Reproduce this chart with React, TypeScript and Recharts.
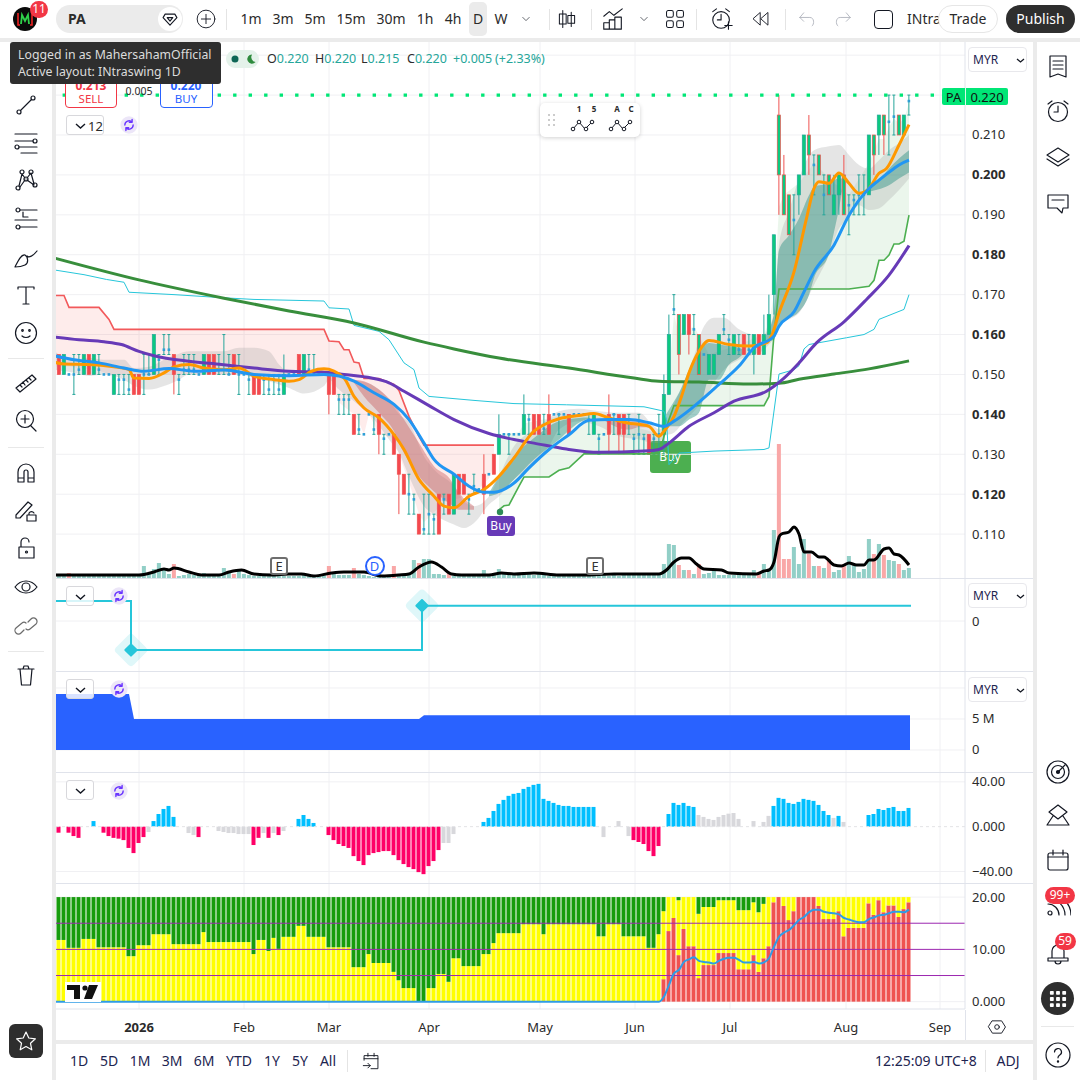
import React from 'react';
import { ComposedChart, Bar, Line, Area, XAxis, YAxis, CartesianGrid, ReferenceLine } from 'recharts';

// bars are indexed 0..170, prices are thousandths of MYR
const candleOpen = [
  155,150,150,150,151.2,150,155,150,151.2,150, 150,145,148.7,148.7,146.2,150,150,150,150,150,
  153.7,156.2,156.2,155,148.7,151.2,151.2,151.2,150,150, 155,155,151.2,151.2,150,155,150,150,148.7,150,
  150,148.7,146.2,148.7,146.2,145,150,150,155,150, 151.2,150,150,150,150,150,143.7,143.7,143.7,140,
  136.2,135,140,136.2,140,133.9,135,135,130,125, 120,118.7,115,111.2,115,113.7,120,118.7,120,115,
  125,125,118.7,122,121.2,125,125,130,130,135, 135,135,135,135,138.7,140,140,136.4,140,140,
  140,140,140,140,140,140,138.7,135,133.9,135, 140,140,140,140,138.7,133.9,135,133.9,135,133.9,
  135,135,145,166.3,165,160,165,161.3,160,155, 150,150,155,161.3,158.7,155,156.2,160,156.2,155,
  160,155,160,170,215,200,195,188.7,195,200, 210,202.5,205,195,200,190,195,200,192.4,193.7,
  195,195,195,210,210,215,213.3,214.6,215,210,218.5,
];
const candleHigh = [
  155,155,150,155,155,155,155,155,155,150, 150,150,150,150,150,150,150,155,155,160,
  155,160,160,155,150,155,155,155,150,155, 155,155,155,160,155,155,155,150,150,150,
  150,150,150,150,150,155,150,150,155,155, 155,155,150,150,150,150,145,145,145,140,
  140,135,140,140,140,135,135,135,130,125, 125,120,115,120,120,115,120,120,120,125,
  125,125,120,125,121.2,130,125,130,140,135, 135,135,135,145,140,140,140,140,145,140,
  140,140,140,140,140,140,140,140,135,135, 145,140,140,140,140,135,140,135,135,135,
  140,150,165,170,165,165,165,165,160,155, 155,155,160,165,160,160,160,160,160,160,
  160,165,170,185,220,205,195,195,200,210, 215,205,205,200,200,200,200,205,195,195,
  200,200,210,210,215,215,220,220,215,215,220,
];
const candleLow = [
  150,150,150,145,150,150,150,150,150,150, 150,145,145,145,145,145,145,145,150,150,
  150,155,155,145,145,150,150,150,150,150, 150,150,150,150,150,150,145,150,145,145,
  145,145,145,145,145,145,150,150,150,150, 150,150,150,150,140,145,140,140,140,135,
  135,135,140,135,130,130,135,130,115,120, 115,115,110,110,110,110,110,115,115,115,
  120,120,115,120,121.2,115,125,125,130,135, 130,135,135,135,135,135,135,135,135,140,
  135,140,135,140,140,140,135,135,130,135, 130,135,130,130,135,130,130,130,130,130,
  130,130,145,165,150,160,155,160,150,155, 150,150,155,160,155,155,155,155,155,150,
  155,155,160,165,190,190,185,180,190,200, 200,195,200,190,195,190,190,190,185,190,
  190,190,195,200,205,205,205,210,210,210,215,
];
const candleClose = [
  150,155,150,150,151.2,155,150,155,151.2,150, 150,150,148.7,148.7,146.2,145,145,150,150,160,
  153.7,156.2,156.2,150,148.7,151.2,151.2,151.2,150,155, 150,150,151.2,151.2,150,150,150,150,148.7,145,
  145,148.7,146.2,148.7,146.2,150,150,150,150,155, 151.2,150,150,150,145,145,143.7,143.7,143.7,135,
  136.2,135,140,136.2,135,133.9,135,130,125,120, 120,118.7,110,111.2,115,113.7,110,118.7,115,125,
  120,120,118.7,122,121.2,120,125,125,135,135, 135,135,135,140,138.7,135,135,136.4,135,140,
  140,140,135,140,140,140,138.7,140,133.9,135, 135,140,135,135,138.7,133.9,135,133.9,130,133.9,
  135,145,160,166.3,155,165,160,161.3,150,155, 155,155,160,161.3,158.7,160,156.2,155,156.2,160,
  155,160,165,185,200,190,185,188.7,200,210, 205,202.5,200,195,195,195,200,190,192.4,193.7,
  195,195,210,205,215,210,213.3,214.6,210,215,218.5,
];
// down bars drawn with a green body inside a red edge
const outlinedBars = [124,128,144,145,146,150,152,154,157,163,165,168];

const volumes = [
  3,3,5,3,2,3,2,3,3,3, 3,3,3,3,3,3,3,12,4,9, 15,10,4,14,2,3,4,3,3,5, 3,3,3,10,6,4,7,4,3,2,
  2,2,2,2,2,2,2,2,2,3, 2,2,2,3,12,4,3,3,3,10, 4,3,2,1,3,3,3,12,4,4, 5,18,15,19,19,4,4,3,5,2,
  2,2,2,2,3,8,4,3,9,5, 4,4,5,6,5,3,4,3,2,3, 2,3,3,2,2,3,2,4,2,3, 2,3,2,3,3,3,4,4,3,4,
  3,14,34,33,13,8,8,4,14,4, 5,7,3,3,3,3,3,3,4,8, 4,14,8,48,134,19,19,31,14,39,
  24,12,12,10,19,6,8,14,22,14, 6,9,39,24,34,23,18,17,14,8,10,
];
const volumeDownBars = [2,23,35,54,59,67,72,78,124,126,128,140,144,145,146,150,152,154,157,163,165,168];
const volumeAverage = [
  [-1,3],[16,3],[19,6],[21,9],[22,8],[23,10],[26,6],[28.5,3],[32,3],[34,6],[36.5,8],[39,4],[42.5,3],[46,4],[48.5,4],
  [51,2],[54.5,5],[57,6],[61,6],[64.5,2],[68,3],[70,4],[72,11],[74.5,16],[76.5,11],[78.5,4],[80.5,3],[86,3],[88.5,5],
  [91,4],[95,5],[100,3],[105,3],[111,4],[120,4],[121.5,8],[123,16],[124.5,20],[126,20],[127.5,14],[129,9],[132.5,8],
  [134,5],[139.5,4],[141,7],[142,8],[143,16],[144,41],[144.5,44],[146,46],[147,51],[148,44],[149,26],[150.5,26],
  [152,21],[153,21],[155,13],[156.5,12],[158,15],[159.5,13],[161,13],[162,18],[163,18],[165,29],[166,30],[167,24],
  [168,23],[170,13],
];

const sma200 = [[-1,179.2],[16,173.7],[33,169.1],[46,165.9],[59,162.9],[73,158.1],[79,156.4],[88,154.1],[102,151.6],[115,149.1],[120,148.3],[128,148.1],[138,147.6],[144,147.8],[148,148.8],[155,150.1],[162,151.4],[170,153.4]];
const sma50 = [[-1,159.4],[4,158.7],[9,158.2],[12.5,157.5],[16,155.8],[19,154.7],[26,153.3],[32.5,152.5],[39,151.6],[46,150.8],[52.5,150.6],[57,150],[62.5,149.1],[66,147.9],[69,145.8],[74,142.2],[79,138.7],[86,135.2],[91,133.7],[95,132.8],[101.5,131.3],[108,130.5],[117,130.8],[120,131.2],[122,132.8],[126,137],[131,140.4],[135,143.3],[141.5,145.8],[145,149.1],[148,152.9],[151.5,157.9],[157,163.2],[161.5,168.8],[166,174.9],[170,182.3]];
const ema20 = [[-1,154.7],[3,153.7],[8,152.9],[13,151.6],[17,150.8],[22,151.5],[27,150.8],[33,151.1],[39,150],[46,149.7],[53,150],[56,149.6],[59,148.3],[63,145.4],[67,142.5],[70,138.7],[73,132.8],[75,128.7],[79,125],[82,122],[85,120.5],[87,120.5],[91,122.8],[94,126.6],[98,131.2],[102,134.9],[106,138.5],[110,138.7],[114,138.7],[118,137.9],[121,137],[123,138.3],[127,142],[132,147.5],[136,152.1],[139,156.7],[143,159.6],[144,162.1],[147,165.7],[149,170.7],[151,175.7],[155,182.4],[158,189.9],[162,196.6],[164,198.7],[167,201.6],[168,202.5],[170,203.7]];
const ema10 = [[-1,153.1],[1,152.6],[6,152.5],[11,151.9],[14,151.2],[15,149.1],[18,149],[21,150.4],[23,151.9],[26,152.5],[29,151.6],[33,151.2],[36,151.6],[39,149.6],[43,148.7],[46,148.3],[48,148.7],[50.5,150.8],[53,151.4],[57,149.1],[59,144.5],[61,141.6],[64,139.1],[67,134.9],[69,131.2],[72,123.7],[75,119.5],[77,117],[79,116.6],[82,119.5],[85,121.2],[88,124.5],[91,129.1],[95,135.8],[97,137.4],[100,138.9],[104,139.7],[107,140.2],[110,139.1],[113.5,137.9],[118,137],[120,134.5],[121,135.8],[123,139.5],[124.5,144.5],[126,150.4],[128,155.8],[130,158.5],[134,157.5],[138,157.1],[141.5,157.9],[142.5,159.6],[144,165.4],[147,175.7],[149.5,189.1],[151,196.6],[152,198.3],[154,197.9],[156,200.5],[158,197.9],[160,195.4],[162,196.6],[164,200.4],[165.5,201.6],[168,207.5],[170,212.6]];
const channelLine = [[-1,176.2],[5,175],[9.5,173.8],[13,173.1],[14,170.6],[23,170],[33,169.2],[39,168.8],[53,168.4],[54,166.7],[58,166.4],[59,162.3],[64,160.8],[66,158.7],[69,152.9],[71,151.2],[72,146.6],[74,144.5],[83,143.5],[91,142.7],[101.5,142.4],[117,141.9],[121,140.8],[121.5,138.7],[122,127.4],[124,130.3],[131,130.8],[141,131.2],[142,131.6],[144,150.1],[147,151.2],[148,152.2],[149,156.4],[150,157.5],[157.5,159.2],[161,160],[163,161.3],[164,163.8],[169,166.3],[170,170]];

// [bar, lower, upper]
const bearTrendBand = [[-1,152,169.8],[1,152,169.8],[2,152,166.8],[8,151,166.8],[10,150,163.8],[11,150,161.3],[53,150,161.3],[54,149,158.4],[56,143,158.2],[57,142,156.2],[58,141,156.2],[59,140,153.1],[60,138,152.9],[61,135,149],[62,140,149],[64,135,149],[67,134,147.5],[68,130,146],[70,123,139.5],[72,115,134.5],[73,113,132.3],[77,118,132.3],[80,119,132.3],[83,120,132.3],[86,124,132.3],[87,127,132.3]];
const bullTrendBand = [[88,116.1,134.9],[89,117.1,135.2],[90,117.3,135.2],[92,122,135.5],[93,124.3,137.7],[98,124.3,139],[100,126,139.5],[102,126.6,140],[105,130.1,140],[110,130.1,139],[115,130.1,137],[120,130.1,135],[121,134.5,141],[122,138.7,150],[123,142.2,165],[124,142.2,160],[127,142.2,162],[130,142.2,155],[135,142.2,157],[141,142.2,160],[142,144.5,163],[143,160,170],[144,171.4,192],[145,171.4,195],[148,171.4,198],[151,171.4,203],[155,171.4,198],[158,171.4,195],[162,172.1,203],[163,173.6,206],[164,178.6,209],[165,178.6,209],[166,179.9,212],[167,182.7,214],[168,182.7,213],[169,183.4,214],[170,189.9,218]];
const greyBand = [[-1,151.2,155.8],[3,150.4,153.7],[6,149.6,154.2],[9,150,153.7],[13,148.7,153.7],[15,147.2,151.6],[18,146.2,151.9],[21,147.1,153.7],[24,148.7,155.2],[26,150,155.8],[33,150,155.8],[36,150,156.7],[39,149.1,156.7],[42,148.3,155.8],[44,147.5,152.5],[46,146.6,150.4],[49,145.2,149.6],[53,147.1,150],[54,148.7,150],[56,146.2,149.6],[59,143.3,148.7],[63,138.7,147.1],[66,133.7,143.7],[68,130.3,140],[70,124.5,137.9],[73,117,129.5],[75,115,126.2],[79,112.4,122],[81,111.5,118.2],[83,112.8,117],[86,117.4,119.5],[88,119.5,124.5],[91,123.7,132],[93,125.7,134.5],[95,127.8,136.2],[98,132,139.1],[100,136.2,140.8],[104,138.3,141.4],[108,137,140.8],[112,134.5,140.4],[116,133.7,140.4],[119,132.8,137],[120,132.8,136.2],[121,134.5,137],[123,135.4,142.5],[125,138.3,147.9],[127,140.8,154.6],[129,143.7,162.1],[131,147.9,164.2],[133,151.2,164.2],[136,153.7,161.3],[139,155,160],[141,156.2,160],[142,157.5,162.1],[143,159.2,165.4],[144,162.9,182.4],[146,163.8,190.8],[148,165.4,199.1],[151,172.4,206.2],[154,179.9,207.2],[156,186.6,207.5],[158,189.1,205],[160,192.4,202.5],[162,191.2,201.6],[164,191.6,203.7],[166,193.7,206.2],[168,196.2,207.9],[170,199.1,210]];
const tealBands = [
  [[86,119.5,120.3],[88,120.3,124.5],[91,123.7,129.5],[95,128.7,134.1],[100,133.7,138.3],[104,137.9,139.1],[106,139,139.2]],
  [[121,138,139],[122,137,141.2],[124,137,145.4],[126,138.7,151.2],[128,140.4,156.2],[130,148.7,157.9],[132,148.7,157.5],[134,152.5,157.1],[136,154.2,156.7],[137,155.4,156.2]],
  [[141,157.5,159],[142,158.3,161.3],[143,158.7,165.4],[144,162.4,181.2],[146,164,184.9],[148,165.7,189.1],[150,169.9,194.9],[151,174.1,197],[154,180.3,197.9],[155,185.7,198.7],[156,191.6,199.1],[157,198.7,199.1]],
  [[162,195.8,197.4],[164,196.4,198.7],[166,197.4,201.6],[168,199.1,204.1],[170,200.6,206.2]],
];
const roseBands = [
  [[59,147.9,148.7],[61,144.5,148.3],[64,140.4,146.2],[67,135.8,142.5],[69,130.3,138.7],[72,124.5,132.8],[75,120.7,127],[78,117.8,124.1],[80,116.1,120.3],[83,116.1,117]],
  [[109,138.5,138.9],[112,136.6,138.7],[114,136.2,138.3],[116,136.8,138.3],[118,136.8,137.4]],
];

const pivotLine = [[-1,20],[14.4,-29],[72.6,15.3],[170.4,15.3]];
const pivotMarks = [14.4, 72.6];
const liquidity = [[-1,9.03],[14,9.03],[15,5],[72,5],[73,5.6],[170.2,5.6]];

const momentum = [
  -5.4,0,-5.4,-8.4,-10,0,0,5,0,-5.4, -8.4,-10,-10.7,-12,-19,-23.6,-14.6,-9.3,-4.8,5,
  11.3,15.8,18.5,8.7,0,0,-5.7,-7.5,-9.3,0, 0,0,-3.9,-4.8,-5.7,-5.7,-6.6,-6.6,-6.6,-16.4,
  -10,-5.7,-10,-5.7,-7.5,-3.9,0,0,6.9,10.4, 6.9,3.3,0,0,-7.5,-12,-15.5,-17.3,-19,-26.3,
  -30.7,-34.3,-25.4,-23.6,-22.7,-21.8,-21.8,-25.4,-29.9,-33.4, -36.1,-37.9,-40.6,-42.4,-35.2,-30.7,-20.9,-14.6,-14.6,-6.6,
  0,0,0,0,0,4.2,7.8,14,20.3,23.9, 27.5,29.3,30.1,33.7,35.5,37.3,38.2,24.8,23,21.2,
  19.4,18.5,18.5,17.6,17.6,17.6,17.6,17.6,0,-9.3, 0,0,5,0,-8.4,-12,-13.7,-15.5,-21.8,-26.3,
  -17.3,0,11.3,21.2,19.4,21.2,18.5,17.6,10.4,8.7, 6.9,6,8.7,10.4,11.6,12.2,6.9,0,0,5,
  0,4.2,9.6,18.5,25.7,24.8,21.2,20.3,22.1,24.8, 23.9,23,19.4,14,10.4,7.8,9.6,4.2,0,0,
  0,0,10.4,11.3,15.8,14.9,16.7,17.6,14,14,16.7,
];
const momentumNeutral = [18,26,27,32,33,34,35,36,37,38,41,43,45,77,78,79,109,112,114,128,129,130,131,132,133,134,135,136,139,141,142,155,157];

const oscTop = [
  11.8,11.8,10.3,10.3,10.3,12,12,12,10.4,10.4, 10.4,10.4,10.4,10.4,8.7,8.7,10.8,10.8,10.8,12.9,
  12.9,12.9,12.9,11,11,11,11,11,11,13.3, 11.4,11.4,11.4,11.4,11.4,11.4,11.4,11.4,11.4,9.1,
  11.8,11.8,9.7,12.2,10.1,12.4,12.4,12.4,14.5,14.5, 12.4,12.4,12.4,12.4,10.4,10.4,10.4,10.4,10.4,6.6,
  6.6,6.6,9.1,7.4,7.4,7.4,7.4,5.7,4.1,2.6, 2.6,2.6,0,0,2.6,2.6,5.3,5.3,3.8,8.3,
  8.3,6.8,6.8,6.8,6.8,9.1,9.1,11.2,13.1,13.1, 13.1,13.1,13.1,14.8,14.8,14.8,14.8,12.9,14.8,14.8,
  14.8,14.8,14.8,14.8,14.8,14.8,14.8,14.8,12.5,12.5, 14.8,14.8,14.8,12.5,12.5,12.5,12.5,12.5,10.3,10.3,
  12.9,17.3,20,20,19.4,20,20,20,16.8,18.1, 18.1,18.1,19.4,19.4,19.4,19.4,17.5,17.5,17.5,19,
  17.1,18.7,20,20,20,20,20,20,20,20, 20,20,20,20,20,20,20,20,20,20, 20,20,20,20,20,20,20,20,20,20,20,
];
const oscRedFrom = 121;
const oscRed = [
  4.3,13.5,16,8.9,13.9,10.6,10.6,4.5,7, 7,7,9.3,9.3,9.3,9.3,6.2,6.2,6.2,8.9,
  5.7,8.3,10.6,19,20,18.3,15.6,17.3,20,20, 20,20,18.3,15.8,15.8,15.8,17.3,12.5,14.1,14.1,
  14.1,14.1,18.8,16.6,19.4,17.1,18.4,18.4,16.2,17.7,19,
];
const oscSignal = [[-1,0],[120,0],[121,1],[122,3.2],[123,5.4],[124,6.1],[125,7.6],[126,8.1],[127,8.5],[128,7.8],[129,7.6],[130,7.5],[131,7.3],[132,7.8],[133,8.2],[134,8.4],[135,8.4],[136,8],[137,7.5],[138,7.5],[139,7.6],[140,7.3],[141,7.5],[142,8.3],[143,10.5],[144,12.4],[145,13.2],[146,13.7],[147,14.6],[148,15.6],[149,16.2],[150,17.1],[151,17.6],[152,17.6],[153,17.2],[154,17],[155,16.9],[156,16.7],[157,16],[158,15.7],[159,15.4],[160,15.2],[161,15.2],[162,15.8],[163,16.1],[164,16.5],[165,16.6],[166,16.9],[167,17.2],[168,17.2],[169,17.1],[170,17.6]];

const monthTicks = [16, 37, 54, 74, 96.2, 115.2, 134.2, 157.4, 176.2];
const monthLabels = ['2026', 'Feb', 'Mar', 'Apr', 'May', 'Jun', 'Jul', 'Aug', 'Sep'];
const priceTicks = [110, 120, 130, 140, 150, 160, 170, 180, 190, 200, 210, 220, 230];
const boldPrices = [120, 140, 160, 180, 200];

const intervals = [['1m',251],['3m',283],['5m',315],['15m',351],['30m',391],['1h',425],['4h',453],['D',478],['W',501]];
const ranges = [['1D',79],['5D',109],['1M',140],['3M',172],['6M',204],['YTD',239],['1Y',272],['5Y',300],['All',328]];
const ohlcLegend = [['O','0.220',267],['H','0.220',315],['L','0.215',361],['C','0.220',407]];

const UI_FONT = '"Noto Sans", sans-serif';
const PLOT_W = 909;
const AXIS_W = 68;
const X_DOMAIN: [number, number] = [-0.6, 181.2];
const GRID = '#f0f0f3';
const BORDER = '#e0e3eb';

const toLine = (rows: number[][]) => rows.map(([i, v]) => ({ i, v }));
const toBand = (rows: number[][]) => rows.map(([i, lo, hi]) => ({ i, band: [lo, hi], top: hi, bottom: lo }));

const candles = candleOpen.map((open, i) => ({ i, open, high: candleHigh[i], low: candleLow[i], close: candleClose[i] }));
const volumeRows = volumes.map((vol, i) => ({ i, vol }));
const momentumRows = momentum.map((m, i) => ({ i, m }));
const oscRows = oscTop.map((top, i) => {
  const red = i >= oscRedFrom ? oscRed[i - oscRedFrom] : 0;
  return { i, red, yellow: Math.max(top - red, 0), green: 20 - top };
});

function CandleShape(props: any) {
  const { x, y, width, height, payload } = props;
  const { open, high, low, close, i } = payload;
  const cx = x + width / 2;
  const span = high - low;
  const toY = (v: number) => (span === 0 ? y : y + ((high - v) / span) * height);
  const isFlat = open === close;
  const isDown = close < open;
  const wick = isDown ? '#ef5350' : '#26a69a';
  const bodyTop = toY(Math.max(open, close));
  const bodyBottom = toY(Math.min(open, close));
  const bodyFill = isDown && !outlinedBars.includes(i) ? '#f4484f' : '#0bc97f';
  return (
    <g>
      {span > 0 && <line x1={cx} x2={cx} y1={toY(high)} y2={toY(low)} stroke={wick} strokeWidth={1} />}
      {isFlat ? (
        <g>
          {span > 0 && <line x1={cx - 1.5} x2={cx + 1.5} y1={toY(high)} y2={toY(high)} stroke={wick} />}
          {span > 0 && <line x1={cx - 1.5} x2={cx + 1.5} y1={toY(low)} y2={toY(low)} stroke={wick} />}
          <rect x={cx - 1.3} y={toY(close) - 1.3} width={2.6} height={2.6} fill="#2e9fd6" />
        </g>
      ) : (
        <rect
          x={cx - 1.6}
          y={bodyTop}
          width={3.2}
          height={Math.max(bodyBottom - bodyTop, 1)}
          fill={bodyFill}
          stroke={wick}
          strokeWidth={0.7}
        />
      )}
    </g>
  );
}

function VolumeShape(props: any) {
  const { x, y, width, height, payload } = props;
  const fill = volumeDownBars.includes(payload.i) ? '#f9a7a7' : '#92cfc7';
  return <rect x={x + width / 2 - 2} y={y} width={4} height={height} fill={fill} />;
}

function MomentumShape(props: any) {
  const { x, y, width, height, payload } = props;
  let fill = payload.m > 0 ? '#00bfff' : '#ff0066';
  if (momentumNeutral.includes(payload.i)) fill = '#d8d8dc';
  // a bar below zero comes with a negative height
  return <rect x={x} y={Math.min(y, y + height)} width={width} height={Math.abs(height)} fill={fill} />;
}

function DiamondDot(props: any) {
  const { cx, cy, payload } = props;
  if (!pivotMarks.includes(payload.i)) return <g key={payload.i} />;
  return (
    <g key={payload.i} transform={`rotate(45 ${cx} ${cy})`}>
      <rect x={cx - 12.5} y={cy - 12.5} width={25} height={25} rx={4} fill="#26c6da" opacity={0.15} />
      <rect x={cx - 5} y={cy - 5} width={10} height={10} rx={1} fill="#26c6da" />
    </g>
  );
}

const scaleTick = (format: (v: number) => string, isBold?: (v: number) => boolean) => (props: any) => (
  <text
    x={PLOT_W + 7}
    y={props.y}
    dy={4.5}
    fontSize={13}
    fontFamily={UI_FONT}
    fontWeight={isBold && isBold(props.payload.value) ? 700 : 400}
    fill="#2b2b2b"
  >
    {format(props.payload.value)}
  </text>
);

function TimeTick(props: any) {
  const { x, payload } = props;
  const idx = monthTicks.indexOf(payload.value);
  return (
    <text x={x} y={147.5} textAnchor="middle" fontSize={13} fontFamily={UI_FONT} fontWeight={idx === 0 ? 700 : 400} fill="#2b2b2b">
      {monthLabels[idx]}
    </text>
  );
}

function Pane({ top, height, children }: { top: number; height: number; children: React.ReactNode }) {
  return <div style={{ position: 'absolute', left: 56, top, width: PLOT_W + AXIS_W, height }}>{children}</div>;
}

function MainChart() {
  return (
    <ComposedChart width={PLOT_W + AXIS_W} height={536} data={candles} margin={{ top: 0, right: 0, bottom: 0, left: 0 }}>
      <CartesianGrid stroke={GRID} verticalValues={monthTicks} horizontalValues={priceTicks} />
      <XAxis dataKey="i" type="number" domain={X_DOMAIN} ticks={monthTicks} hide allowDataOverflow />
      <YAxis
        orientation="right"
        width={AXIS_W}
        domain={[99, 233.3]}
        ticks={priceTicks}
        interval={0}
        allowDataOverflow
        tickLine={false}
        axisLine={{ stroke: BORDER }}
        tick={scaleTick((v) => (v <= 210 ? (v / 1000).toFixed(3) : ''), (v) => boldPrices.includes(v))}
      />
      <Area data={toBand(bearTrendBand)} dataKey="band" stroke="none" fill="#f44336" fillOpacity={0.1} isAnimationActive={false} />
      <Area data={toBand(bullTrendBand)} dataKey="band" stroke="none" fill="#4caf50" fillOpacity={0.11} isAnimationActive={false} />
      <Area data={toBand(greyBand)} dataKey="band" type="monotone" stroke="none" fill="#9e9e9e" fillOpacity={0.27} isAnimationActive={false} />
      {tealBands.map((rows, k) => (
        <Area key={`teal${k}`} data={toBand(rows)} dataKey="band" type="monotone" stroke="none" fill="#1f8a7d" fillOpacity={0.42} isAnimationActive={false} />
      ))}
      {roseBands.map((rows, k) => (
        <Area key={`rose${k}`} data={toBand(rows)} dataKey="band" type="monotone" stroke="none" fill="#c9585a" fillOpacity={0.42} isAnimationActive={false} />
      ))}
      <ReferenceLine y={220} stroke="#00e676" strokeWidth={3.4} strokeDasharray="3.4 12.1" segment={[{ x: -0.6, y: 220 }, { x: 176.4, y: 220 }]} />
      <Bar dataKey={(d: any) => [d.low, d.high]} barSize={4} shape={CandleShape} isAnimationActive={false} />
      <Line data={toLine(channelLine)} dataKey="v" stroke="#26c6da" strokeWidth={1} dot={false} isAnimationActive={false} />
      <Line data={toBand(bearTrendBand)} dataKey="top" stroke="#f2595b" strokeWidth={1.6} dot={false} isAnimationActive={false} />
      <Line data={toBand(bullTrendBand)} dataKey="bottom" stroke="#4caf50" strokeWidth={1.6} dot={false} isAnimationActive={false} />
      <Line data={toLine(sma200)} dataKey="v" type="monotone" stroke="#388e3c" strokeWidth={3} dot={false} isAnimationActive={false} />
      <Line data={toLine(sma50)} dataKey="v" type="monotone" stroke="#673ab7" strokeWidth={3} dot={false} isAnimationActive={false} />
      <Line data={toLine(ema10)} dataKey="v" type="monotone" stroke="#ff9800" strokeWidth={3} dot={false} isAnimationActive={false} />
      <Line data={toLine(ema20)} dataKey="v" type="monotone" stroke="#2196f3" strokeWidth={3} dot={false} isAnimationActive={false} />
    </ComposedChart>
  );
}

function VolumeChart() {
  return (
    <ComposedChart width={PLOT_W + AXIS_W} height={150} data={volumeRows} margin={{ top: 0, right: AXIS_W, bottom: 0, left: 0 }}>
      <XAxis dataKey="i" type="number" domain={X_DOMAIN} hide allowDataOverflow />
      <YAxis domain={[0, 150]} hide />
      <Bar dataKey="vol" barSize={4} shape={VolumeShape} isAnimationActive={false} />
      <Line data={toLine(volumeAverage)} dataKey="v" type="monotone" stroke="#000000" strokeWidth={3} dot={false} isAnimationActive={false} />
    </ComposedChart>
  );
}

function PivotChart() {
  return (
    <ComposedChart width={PLOT_W + AXIS_W} height={92} data={candles} margin={{ top: 0, right: 0, bottom: 0, left: 0 }}>
      <CartesianGrid stroke={GRID} verticalValues={monthTicks} horizontalValues={[0]} />
      <XAxis dataKey="i" type="number" domain={X_DOMAIN} ticks={monthTicks} hide allowDataOverflow />
      <YAxis orientation="right" width={AXIS_W} domain={[-50, 42]} ticks={[0]} tickLine={false} axisLine={{ stroke: BORDER }} tick={scaleTick((v) => String(v))} />
      <Line data={toLine(pivotLine)} dataKey="v" type="stepAfter" stroke="#26c6da" strokeWidth={2} dot={DiamondDot} isAnimationActive={false} />
    </ComposedChart>
  );
}

function LiquidityChart() {
  return (
    <ComposedChart width={PLOT_W + AXIS_W} height={100} data={candles} margin={{ top: 0, right: 0, bottom: 0, left: 0 }}>
      <CartesianGrid stroke={GRID} verticalValues={monthTicks} horizontalValues={[0, 5, 10]} />
      <XAxis dataKey="i" type="number" domain={X_DOMAIN} ticks={monthTicks} hide allowDataOverflow />
      <YAxis orientation="right" width={AXIS_W} domain={[-3.55, 12.58]} ticks={[0, 5]} allowDataOverflow tickLine={false} axisLine={{ stroke: BORDER }} tick={scaleTick((v) => (v === 0 ? '0' : `${v} M`))} />
      <Area data={toLine(liquidity)} dataKey="v" stroke="none" fill="#2962ff" fillOpacity={1} baseValue={0} isAnimationActive={false} />
    </ComposedChart>
  );
}

function MomentumChart() {
  return (
    <ComposedChart width={PLOT_W + AXIS_W} height={110} data={momentumRows} margin={{ top: 0, right: 0, bottom: 0, left: 0 }}>
      <CartesianGrid stroke={GRID} verticalValues={monthTicks} horizontalValues={[-40, 40]} />
      <XAxis dataKey="i" type="number" domain={X_DOMAIN} ticks={monthTicks} hide allowDataOverflow />
      <YAxis
        orientation="right"
        width={AXIS_W}
        domain={[-50.3, 47.9]}
        ticks={[-40, 0, 40]}
        interval={0}
        allowDataOverflow
        tickLine={false}
        axisLine={{ stroke: BORDER }}
        tick={scaleTick((v) => (v === 0 ? '0.000' : v < 0 ? `\u2212${(-v).toFixed(2)}` : v.toFixed(2)))}
      />
      <ReferenceLine y={0} stroke="#e3e3e6" strokeDasharray="3 3" />
      <Bar dataKey="m" barSize={4} shape={MomentumShape} isAnimationActive={false} />
    </ComposedChart>
  );
}

function OscillatorChart() {
  return (
    <ComposedChart width={PLOT_W + AXIS_W} height={156} data={oscRows} margin={{ top: 0, right: 0, bottom: 0, left: 0 }}>
      <CartesianGrid stroke={GRID} verticalValues={monthTicks} horizontalValues={[0, 20]} />
      <XAxis
        dataKey="i"
        type="number"
        domain={X_DOMAIN}
        ticks={monthTicks}
        interval={0}
        height={31}
        allowDataOverflow
        tickLine={false}
        axisLine={{ stroke: BORDER }}
        tick={TimeTick}
      />
      <YAxis
        orientation="right"
        width={AXIS_W}
        domain={[-1.4, 22.5]}
        ticks={[0, 10, 20]}
        interval={0}
        allowDataOverflow
        tickLine={false}
        axisLine={{ stroke: BORDER }}
        tick={scaleTick((v) => (v === 0 ? '0.000' : v.toFixed(2)))}
      />
      <Bar dataKey="red" stackId="osc" barSize={4} fill="#ef5350" isAnimationActive={false} />
      <Bar dataKey="yellow" stackId="osc" barSize={4} fill="#ffff00" isAnimationActive={false} />
      <Bar dataKey="green" stackId="osc" barSize={4} fill="#169c0c" isAnimationActive={false} />
      <ReferenceLine y={15} stroke="#9c27b0" />
      <ReferenceLine y={10} stroke="#9c27b0" />
      <ReferenceLine y={5} stroke="#9c27b0" />
      <Line data={toLine(oscSignal)} dataKey="v" type="monotone" stroke="#2e9ce6" strokeWidth={2} dot={false} isAnimationActive={false} />
    </ComposedChart>
  );
}

function Label({ x, y, children, size = 13, color = '#2b2b2b', weight = 400, center = false }: any) {
  return (
    <div
      style={{
        position: 'absolute',
        left: x,
        top: y,
        transform: center ? 'translate(-50%,-50%)' : 'translateY(-50%)',
        fontSize: size,
        color,
        fontWeight: weight,
        whiteSpace: 'nowrap',
        lineHeight: 1,
      }}
    >
      {children}
    </div>
  );
}

function Box({ x, y, w, h, bg = 'transparent', r = 0, border, shadow, children }: any) {
  return (
    <div
      style={{
        position: 'absolute',
        left: x,
        top: y,
        width: w,
        height: h,
        background: bg,
        borderRadius: r,
        border,
        boxShadow: shadow,
        boxSizing: 'border-box',
      }}
    >
      {children}
    </div>
  );
}

function Icon({ x, y, size = 26, children, color = '#131722', sw = 1.2 }: any) {
  return (
    <svg
      style={{ position: 'absolute', left: x - size / 2, top: y - size / 2 }}
      width={size}
      height={size}
      viewBox="0 0 26 26"
      fill="none"
      stroke={color}
      strokeWidth={sw}
      strokeLinejoin="round"
      strokeLinecap="round"
    >
      {children}
    </svg>
  );
}

function SyncBadge({ x, y }: any) {
  return (
    <Icon x={x} y={y} size={18} color="#6a35ff" sw={2}>
      <circle cx="13" cy="13" r="12.5" fill="#ece6f8" stroke="none" />
      <path d="M7 13a6 6 0 0 1 10.5-4M19 13a6 6 0 0 1-10.5 4M17.5 5v4h-4M8.5 21v-4h4" />
    </Icon>
  );
}

function ChevronButton({ x, y, label }: any) {
  return (
    <Box x={x} y={y} w={label ? 38 : 28} h={20} bg="rgba(255,255,255,0.82)" r={3} border="1px solid #d8d8dc">
      <svg style={{ position: 'absolute', left: 8, top: 7 }} width="11" height="7" fill="none" stroke="#131722" strokeWidth="1.4">
        <path d="M1 1l4.5 4 4.5-4" />
      </svg>
      {label && <Label x={21} y={9.5} size={13}>{label}</Label>}
    </Box>
  );
}

function CurrencyButton({ y }: any) {
  return (
    <Box x={968} y={y} w={59} h={25} bg="#fff" r={4} border="1px solid #e8e8ec">
      <Label x={4} y={11.5} size={12} color="#1d2450">MYR</Label>
      <svg style={{ position: 'absolute', left: 47, top: 10 }} width="9" height="6" fill="none" stroke="#131722" strokeWidth="1.3">
        <path d="M1 1l3.5 3 3.5-3" />
      </svg>
    </Box>
  );
}

function Badge({ x, y, text, w = 18 }: any) {
  return (
    <Box x={x - w / 2} y={y - 8.5} w={w} h={17} bg="#f23645" r={9}>
      <Label x={w / 2} y={8.5} size={12} color="#fff" center>{text}</Label>
    </Box>
  );
}

function LeftToolbar() {
  return (
    <>
      <Icon x={26} y={105}><circle cx="6" cy="20" r="2" /><circle cx="20" cy="6" r="2" /><path d="M7.5 18.5L18.5 7.5" /></Icon>
      <Icon x={26} y={143}><path d="M2 4h22M2 11h18M6 17h18M8 23h16" /><circle cx="22" cy="11" r="2" /><circle cx="4" cy="17" r="2" /></Icon>
      <Icon x={26} y={180}><circle cx="5" cy="21" r="2" /><circle cx="9" cy="5" r="2" /><circle cx="13" cy="12" r="2" /><circle cx="18" cy="5" r="2" /><circle cx="22" cy="18" r="2" /><path d="M6 19l3-12 3 4m2 0l4-5 3 11M7 20l5-7m2 0l7 5" /></Icon>
      <Icon x={26} y={219}><circle cx="5" cy="4" r="2" /><circle cx="5" cy="21" r="2" /><path d="M7 4h17M2 14h22M7 21h17M10 6v5h5" /></Icon>
      <Icon x={26} y={258}><path d="M2 22c4 0 6 0 10-2 4-2 3-8 0-10-4-1-7 6-10 12zM14 11c2 2 6 0 10-5" /></Icon>
      <Icon x={26} y={295}><path d="M5 5h16M13 5v17M10 22h6M5 5v2M21 5v2" /></Icon>
      <Icon x={26} y={333}><circle cx="13" cy="13" r="10.5" /><path d="M9 16c2 2 6 2 8 0" /><circle cx="9.5" cy="10.5" r=".8" /><circle cx="16.5" cy="10.5" r=".8" /></Icon>
      <Box x={8} y={358} w={36} h={1} bg="#e8e8e8" />
      <Icon x={26} y={383}><path d="M3 18L19 5l4 4L7 22zM7 15l2 2M10 12l2 3M13 10l2 2M16 8l2 2" /></Icon>
      <Icon x={26} y={421}><circle cx="12" cy="11" r="8.5" /><path d="M18 18l5 5M12 7v8M8 11h8" /></Icon>
      <Box x={8} y={447} w={36} h={1} bg="#e8e8e8" />
      <Icon x={26} y={473}><path d="M5 22V12a8 8 0 0 1 16 0v10h-6V12a2 2 0 0 0-4 0v10zM5 18h6M15 18h6" /></Icon>
      <Icon x={26} y={510}><path d="M3 18L15 5l4 3L7 21H3zM14 24v-6h9v6zM16 18v-2a3 3 0 0 1 5 0" /></Icon>
      <Icon x={26} y={548}><path d="M6 12h15v11H6zM8 12V7a4 4 0 0 1 8 0" /><circle cx="13.5" cy="17" r="1" /></Icon>
      <Icon x={26} y={587}><path d="M2 13c6-8 16-8 22 0-6 8-16 8-22 0z" /><circle cx="13" cy="13" r="4" /></Icon>
      <Icon x={26} y={626}><path d="M11 17l-3 3a3.5 3.5 0 0 1-5-5l6-5a3 3 0 0 1 4 0M15 9l3-3a3.5 3.5 0 0 1 5 5l-6 5a3 3 0 0 1-4 0" stroke="#6b6b6b" /></Icon>
      <Box x={8} y={651} w={36} h={1} bg="#e8e8e8" />
      <Icon x={26} y={675}><path d="M5 7h16M7 7l1.5 16h9L19 7M10 7l1-3h4l1 3" /></Icon>
      <Box x={9} y={1024} w={34} h={34} bg="#2e2e2e" r={6}>
        <Icon x={17} y={17} color="#fff"><path d="M13 4l2.8 6 6.6.8-4.9 4.5 1.3 6.5-5.8-3.3-5.8 3.3 1.3-6.5-4.9-4.5 6.6-.8z" /></Icon>
      </Box>
    </>
  );
}

function RightToolbar() {
  return (
    <>
      <Icon x={1058} y={66}><path d="M5 3h16v21l-8-3-8 3zM8 8h10M8 12h10M8 16h10" /></Icon>
      <Icon x={1058} y={111}><circle cx="13" cy="14" r="9.5" /><path d="M13 8v6h-4M3 6l4-3M23 6l-4-3" /></Icon>
      <Icon x={1058} y={157}><path d="M13 4l11 7-11 7-11-7zM2 15l11 7 11-7" /></Icon>
      <Icon x={1058} y={204}><path d="M3 4h20v13h-5l-1 5-5-5H3zM7 9h12" /></Icon>
      <Icon x={1058} y={772}><circle cx="13" cy="13" r="11" /><circle cx="13" cy="13" r="6.5" /><circle cx="13" cy="13" r="1.5" fill="#131722" /><path d="M13 13l7-7" /></Icon>
      <Icon x={1058} y={815}><path d="M13 3l9 7-9 7-9-7zM8 14l-6 9h22l-6-9" /></Icon>
      <Icon x={1058} y={860}><rect x="3" y="6" width="20" height="17" rx="2" /><path d="M3 10h20M8 3v5M18 3v5" /></Icon>
      <Icon x={1058} y={905}><path d="M3 12c6 0 11 5 11 11M3 6c9 0 17 8 17 17M3 1c12 0 23 10 23 22" /><circle cx="5" cy="21" r="2" /></Icon>
      <Badge x={1060} y={895} text="99+" w={30} />
      <Icon x={1058} y={952}><path d="M7 19v-7a6 6 0 0 1 12 0v7M3 19h20v3H3zM10 22a3 3 0 0 0 6 0" /></Icon>
      <Badge x={1065} y={941} text="59" w={21} />
      <Box x={1041} y={982} w={33} h={33} bg="#2e2e2e" r={17} />
      <Icon x={1057.5} y={998.5} size={20} color="#fff" sw={0}>
        {[5, 13, 21].flatMap((cy) => [5, 13, 21].map((cx) => <rect key={`${cx}-${cy}`} x={cx - 2.5} y={cy - 2.5} width={5} height={5} rx={1} fill="#fff" />))}
      </Icon>
      <Box x={1041} y={1026} w={33} h={1} bg="#e8e8e8" />
      <Icon x={1058} y={1055}><circle cx="13" cy="13" r="12" /><path d="M9.5 10a3.5 3.5 0 1 1 5 3.2c-1 .6-1.5 1.2-1.5 2.6" /><circle cx="13" cy="19.5" r=".6" /></Icon>
    </>
  );
}

function TopBar() {
  return (
    <>
      <svg style={{ position: 'absolute', left: 13, top: 7 }} width="24" height="24">
        <circle cx="12" cy="12" r="12" fill="#0a0a0a" />
        <path d="M5 6v12h2M19 6v12h-2" stroke="#e22" strokeWidth="1.6" fill="none" />
        <path d="M8 17l1-9 3 6 3-6 1 9" stroke="#2fd24a" strokeWidth="1.8" fill="none" />
      </svg>
      <Badge x={39} y={9} text="11" w={18} />
      <Box x={56} y={5} w={127} h={28} bg="#ebebeb" r={14} />
      <Label x={68} y={19} size={14} weight={700}>PA</Label>
      <Box x={158} y={7} w={24} h={24} bg="#fff" r={12} />
      <Icon x={170} y={19} size={18} sw={1.6}><path d="M6 6h14l3 5-10 11L3 11zM9 11h8l-4 5z" /></Icon>
      <Icon x={206} y={19} size={20}><circle cx="13" cy="13" r="11.5" /><path d="M13 7v12M7 13h12" /></Icon>
      {[226, 549, 591, 696, 785].map((x) => <Box key={x} x={x} y={9} w={1} h={21} bg="#e4e4e4" />)}
      <Box x={469} y={2} w={18} h={34} bg="#ebebeb" r={5} />
      {intervals.map(([t, x]) => <Label key={t as string} x={x} y={19} size={14} center>{t}</Label>)}
      <Icon x={526} y={19} size={14}><path d="M7 10l6 6 6-6" /></Icon>
      <Icon x={567} y={19} size={22}><path d="M8 3v20M4 7h8v12H4zM18 5v17M14 9h8v9h-8z" /></Icon>
      <Icon x={613} y={19} size={24}><path d="M3 10l6-5 5 4 9-7M3 24v-7h6v7zM9 24v-10h6v10zM15 24v-13h7v13z" /></Icon>
      <Icon x={644} y={19} size={14}><path d="M7 10l6 6 6-6" /></Icon>
      <Icon x={675} y={19} size={22}><rect x="3" y="3" width="8" height="8" rx="2" /><rect x="15" y="3" width="8" height="8" rx="2" /><rect x="3" y="15" width="8" height="8" rx="2" /><rect x="15" y="15" width="8" height="8" rx="2" /></Icon>
      <Icon x={722} y={19} size={24}><circle cx="12" cy="14" r="9" /><path d="M12 8v6h-4M3 5l4-3M21 5l-4-3M20 16v8M16 20h8" /></Icon>
      <Icon x={761} y={19} size={20}><path d="M12 5v16L3 13zM22 5v16l-9-8z" /></Icon>
      <Icon x={806} y={19} size={20} color="#b2b5be"><path d="M5 11h13c6 0 6 9 3 11M5 11l5-6M5 11l5 5" /></Icon>
      <Icon x={844} y={19} size={20} color="#b2b5be"><path d="M21 11H8c-6 0-6 9-3 11M21 11l-5-6M21 11l-5 5" /></Icon>
      <Box x={874} y={10} w={19} h={19} r={4} border="1.5px solid #131722" />
      <Label x={907} y={19} size={14}>INtra</Label>
      <Box x={938} y={5} w={60} h={28} bg="#fff" r={14} border="1px solid #e6e6e6" />
      <Label x={968} y={19} size={14} center>Trade</Label>
      <Box x={1006} y={5} w={69} h={28} bg="#2e2e2e" r={14} />
      <Label x={1040.5} y={19} size={14} color="#fff" center>Publish</Label>
    </>
  );
}

function ChartOverlays() {
  const green = '#26a69a';
  return (
    <>
      {/* order ticket under the account tooltip */}
      <Box x={65} y={70} w={52} h={38} bg="#fff" r={4} border="1px solid #f23645" />
      <Label x={91} y={85.5} size={12} color="#f23645" weight={700} center>0.213</Label>
      <Label x={91} y={98.5} size={11.5} color="#f23645" center>SELL</Label>
      <Box x={160} y={70} w={53} h={38} bg="#fff" r={4} border="1px solid #2962ff" />
      <Label x={186} y={85.5} size={12} color="#2962ff" weight={700} center>0.220</Label>
      <Label x={186} y={98.5} size={11.5} color="#2962ff" center>BUY</Label>
      <Label x={139} y={91} size={10.5} center>0.005</Label>
      <ChevronButton x={66} y={115} label="12" />
      <SyncBadge x={129} y={125} />
      <Box x={226} y={50} w={33} h={18} bg="#e4f2ea" r={9} />
      <svg style={{ position: 'absolute', left: 226, top: 50 }} width="33" height="18">
        <circle cx="9" cy="9" r="3.5" fill="#0e6655" />
        <path d="M26 4.5a4.6 4.6 0 1 0 3.5 7.5 5 5 0 0 1-3.5-7.5z" fill="#2e8b3d" />
      </svg>
      {ohlcLegend.map(([name, value, x]) => (
        <Label key={name as string} x={x} y={59} size={12.5} color={green}>
          <span style={{ color: '#2b2b2b' }}>{name}</span>{value}
        </Label>
      ))}
      <Label x={453} y={59} size={12.5} color={green}>+0.005</Label>
      <Label x={495} y={59} size={12.5} color={green}>(+2.33%)</Label>
      <Box x={540} y={103} w={100} h={34} bg="#fff" r={5} shadow="0 1px 4px rgba(0,0,0,0.18)" />
      <svg style={{ position: 'absolute', left: 546, top: 108 }} width="90" height="26" fill="none" stroke="#131722" strokeWidth="1">
        {[0, 1, 2].map((r) => <rect key={`a${r}`} x={2} y={6 + r * 5} width="2" height="2" fill="#ccc" stroke="none" />)}
        {[0, 1, 2].map((r) => <rect key={`b${r}`} x={7} y={6 + r * 5} width="2" height="2" fill="#ccc" stroke="none" />)}
        <path d="M27 21l6-7 6 7 7-7M65 21l6-7 6 7 7-7" />
        <circle cx="27" cy="21" r="1.8" fill="#fff" /><circle cx="33" cy="14" r="1.8" fill="#fff" /><circle cx="40" cy="21" r="1.8" fill="#fff" /><circle cx="46" cy="14" r="1.8" fill="#fff" />
        <circle cx="65" cy="21" r="1.8" fill="#fff" /><circle cx="71" cy="14" r="1.8" fill="#fff" /><circle cx="78" cy="21" r="1.8" fill="#fff" /><circle cx="84" cy="14" r="1.8" fill="#fff" />
      </svg>
      <Label x={579} y={109} size={8} weight={700} center>1</Label>
      <Label x={594} y={109} size={8} weight={700} center>5</Label>
      <Label x={617} y={109} size={8} weight={700} center>A</Label>
      <Label x={631} y={109} size={8} weight={700} center>C</Label>

      <CurrencyButton y={47} />
      <CurrencyButton y={583} />
      <CurrencyButton y={677} />

      <Box x={942} y={88} w={66} h={17} bg="#00e676" r={2} />
      <Box x={965} y={88} w={1} h={17} bg="#d9fbe9" />
      <Label x={953.5} y={96.5} size={13} color="#111" center>PA</Label>
      <Label x={987} y={96.5} size={13} color="#111" center>0.220</Label>

      <Box x={487} y={516} w={28} h={20} bg="#673ab7" r={3} />
      <Label x={501} y={526} size={12} color="#fff" center>Buy</Label>
      <svg style={{ position: 'absolute', left: 496, top: 508 }} width="8" height="8"><circle cx="4" cy="4" r="3.2" fill="#2e8b57" /></svg>

      {[279, 595].map((x) => (
        <Box key={x} x={x - 9} y={557} w={18} h={18} bg="#fff" r={3} border="2px solid #6e6e6e">
          <Label x={7} y={7} size={13} color="#333" center>E</Label>
        </Box>
      ))}
      <Box x={365} y={556} w={20} h={20} bg="#fff" r={10} border="2.5px solid #2962ff">
        <Label x={7.5} y={7.5} size={13} color="#2962ff" center>D</Label>
      </Box>

      <ChevronButton x={66} y={586} />
      <SyncBadge x={119} y={596} />
      <ChevronButton x={66} y={679} />
      <SyncBadge x={119} y={689} />
      <ChevronButton x={66} y={780} />
      <SyncBadge x={119} y={791} />

      <svg style={{ position: 'absolute', left: 65, top: 982 }} width="36" height="20">
        <rect x="0" y="0" width="36" height="20" fill="#fff" />
        <path d="M2 3h13v14H9V8H2zM24 3h9l-6 14h-8z" fill="#111" />
        <circle cx="20" cy="6" r="2.6" fill="#111" />
      </svg>

      <Box x={965} y={1010} w={1} h={30} bg={BORDER} />
      <Icon x={997} y={1027} size={20}><path d="M7 5h12l5 8-5 8H7l-5-8z" /><circle cx="13" cy="13" r="3" /></Icon>
    </>
  );
}

function BottomBar() {
  return (
    <>
      {ranges.map(([t, x]) => <Label key={t as string} x={x} y={1061} size={14} color="#1d2450" center>{t}</Label>)}
      <Box x={347} y={1050} w={1} h={22} bg="#e4e4e4" />
      <Icon x={371} y={1061} size={20}><path d="M4 12V6h18v17h-9M4 10h18M9 3v4M17 3v4M3 19h9M9 16l3 3-3 3" /></Icon>
      <Label x={875} y={1061} size={14} color="#1d2450">12:25:09 UTC+8</Label>
      <Box x={985} y={1050} w={1} h={22} bg="#e4e4e4" />
      <Label x={1008} y={1061} size={14} color="#1d2450" center>ADJ</Label>
    </>
  );
}

export default function App() {
  return (
    <div style={{ position: 'fixed', left: 0, top: 0, width: 1080, height: 1080, background: '#ebebeb', overflow: 'hidden', fontFamily: UI_FONT }}>
      <Box x={0} y={0} w={1080} h={38} bg="#fff" />
      <Box x={0} y={42} w={52} h={1038} bg="#fff" />
      <Box x={1037} y={42} w={43} h={1038} bg="#fff" />
      <Box x={56} y={42} w={977} h={998} bg="#fff" />
      <Box x={56} y={1044} w={977} h={36} bg="#fff" />

      {/* the signal label sits under the series */}
      <Box x={650} y={441} w={41} h={32} bg="#4caf50" r={3} />
      <Label x={670} y={457} size={12} color="#fff" center>Buy</Label>

      <Pane top={42} height={536}><MainChart /></Pane>
      <Pane top={428} height={150}><VolumeChart /></Pane>
      <Box x={56} y={578} w={977} h={1} bg={BORDER} />
      <Pane top={579} height={92}><PivotChart /></Pane>
      <Box x={56} y={671} w={977} h={1} bg={BORDER} />
      <Pane top={672} height={100}><LiquidityChart /></Pane>
      <Box x={56} y={772} w={977} h={1} bg={BORDER} />
      <Pane top={773} height={110}><MomentumChart /></Pane>
      <Box x={56} y={883} w={977} h={1} bg={BORDER} />
      <Pane top={884} height={156}><OscillatorChart /></Pane>

      <ChartOverlays />
      <TopBar />
      <LeftToolbar />
      <RightToolbar />
      <BottomBar />

      <Box x={10} y={42} w={211} h={42} bg="#2e2e2e" r={3} />
      <Label x={18} y={55} size={12.3} color="#dcdcdc">Logged in as MahersahamOfficial</Label>
      <Label x={18} y={72} size={12.3} color="#dcdcdc">Active layout: INtraswing 1D</Label>
    </div>
  );
}
